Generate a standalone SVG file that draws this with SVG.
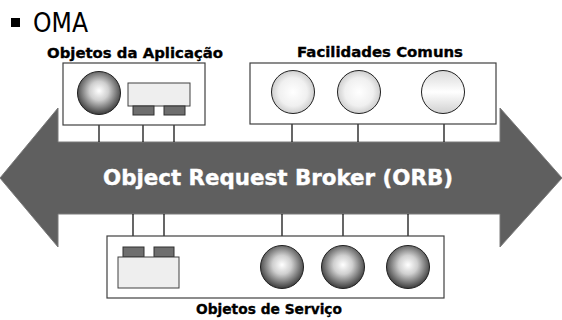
<svg xmlns="http://www.w3.org/2000/svg" width="562" height="320" viewBox="0 0 562 320">
<defs>
<radialGradient id="gDark" cx="50%" cy="45%" r="55%">
<stop offset="0" stop-color="#ffffff"/><stop offset="0.4" stop-color="#cfcfcf"/><stop offset="1" stop-color="#3a3a3a"/>
</radialGradient>
<radialGradient id="gLight" cx="50%" cy="50%" r="55%">
<stop offset="0" stop-color="#ffffff"/><stop offset="0.6" stop-color="#f0f0f0"/><stop offset="1" stop-color="#c4c4c4"/>
</radialGradient>
<linearGradient id="gLin" x1="0" y1="0" x2="0" y2="1">
<stop offset="0" stop-color="#d8d8d8"/><stop offset="0.5" stop-color="#ffffff"/><stop offset="1" stop-color="#d0d0d0"/>
</linearGradient>
<style>
.box{fill:#ffffff;stroke:#404040;stroke-width:1.2}
.body{fill:#eeeeee;stroke:#404040;stroke-width:1}
.tab{fill:#6e6e6e;stroke:#303030;stroke-width:1}
.sph{stroke:#202020;stroke-width:1}
.ln{stroke:#000;stroke-width:1.2;fill:none}
.ttl{font-family:"DejaVu Sans",Verdana,sans-serif;font-weight:bold;font-size:14.5px;fill:#000;stroke:#000;stroke-width:0.35}
</style>
</defs>
<rect width="562" height="320" fill="#ffffff"/>
<g id="header">
<rect x="11" y="18" width="9" height="9" fill="#000"/>
<text x="33" y="32" font-family="'DejaVu Sans',Verdana,sans-serif" font-size="26" textLength="55" lengthAdjust="spacingAndGlyphs" fill="#000">OMA</text>
</g>
<g id="orb">
<polygon points="0,178 58,108 58,142 500,142 500,108 562,178 500,247 500,214 58,214 58,247" fill="#5f5f5f" stroke="#7a7a7a" stroke-width="1"/>
<text x="103" y="185" font-family="'DejaVu Sans',Verdana,sans-serif" font-weight="bold" font-size="22" textLength="350" lengthAdjust="spacingAndGlyphs" fill="#ffffff" stroke="#ffffff" stroke-width="0.4">Object Request Broker (ORB)</text>
</g>
<g id="connectors">
<line class="ln" x1="99" y1="115" x2="99" y2="142"/>
<line class="ln" x1="143" y1="115" x2="143" y2="142"/>
<line class="ln" x1="174" y1="115" x2="174" y2="142"/>
<line class="ln" x1="292" y1="114" x2="292" y2="142"/>
<line class="ln" x1="358" y1="114" x2="358" y2="142"/>
<line class="ln" x1="444" y1="114" x2="444" y2="142"/>
<line class="ln" x1="133" y1="214" x2="133" y2="247"/>
<line class="ln" x1="164" y1="214" x2="164" y2="247"/>
<line class="ln" x1="282" y1="214" x2="282" y2="245"/>
<line class="ln" x1="343" y1="214" x2="343" y2="245"/>
<line class="ln" x1="408" y1="214" x2="408" y2="245"/>
</g>
<g id="app-objects">
<text class="ttl" x="47" y="58" textLength="176" lengthAdjust="spacingAndGlyphs">Objetos da Aplicação</text>
<rect class="box" x="63" y="63" width="142" height="62"/>
<circle class="sph" cx="99" cy="93" r="21.5" fill="url(#gDark)"/>
<rect class="body" x="128" y="83" width="62" height="23"/>
<rect class="tab" x="133" y="106" width="21" height="9"/>
<rect class="tab" x="164" y="106" width="21" height="9"/>
</g>
<g id="common-facilities">
<text class="ttl" x="297" y="57" textLength="166" lengthAdjust="spacingAndGlyphs">Facilidades Comuns</text>
<rect class="box" x="250" y="63" width="246" height="61"/>
<circle class="sph" cx="293" cy="92" r="21.5" fill="url(#gLight)"/>
<circle class="sph" cx="359" cy="92" r="21.5" fill="url(#gLight)"/>
<circle class="sph" cx="443" cy="92" r="21.5" fill="url(#gLin)"/>
</g>
<g id="service-objects">
<rect class="box" x="107" y="236" width="337" height="62"/>
<rect class="tab" x="123" y="247" width="21" height="10"/>
<rect class="tab" x="154" y="247" width="20" height="10"/>
<rect class="body" x="118" y="257" width="61" height="31"/>
<circle class="sph" cx="282" cy="267" r="21.5" fill="url(#gDark)"/>
<circle class="sph" cx="343" cy="267" r="21.5" fill="url(#gDark)"/>
<circle class="sph" cx="408" cy="267" r="21.5" fill="url(#gDark)"/>
<text class="ttl" x="196" y="314" textLength="146" lengthAdjust="spacingAndGlyphs">Objetos de Serviço</text>
</g>
</svg>
